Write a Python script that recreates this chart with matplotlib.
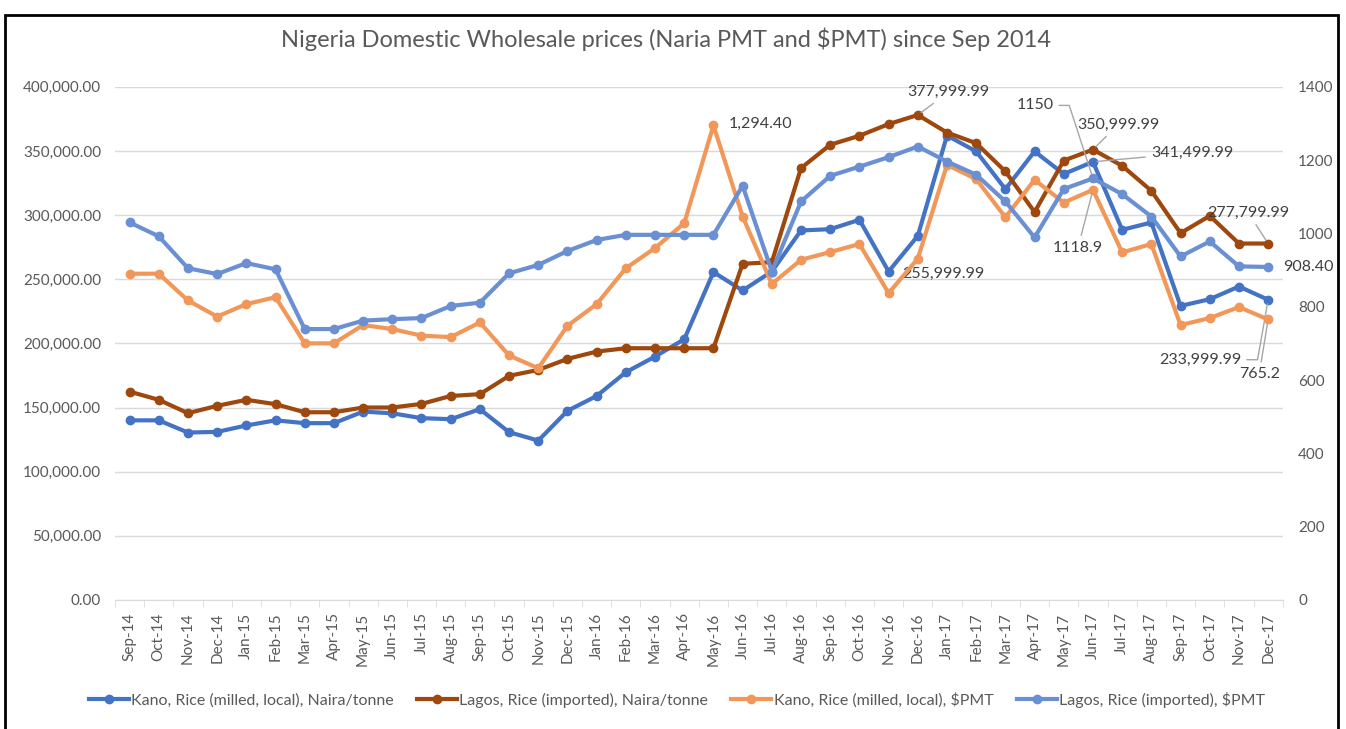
import numpy as np
import matplotlib.pyplot as plt
from matplotlib.patches import Rectangle
from matplotlib.ticker import FuncFormatter

plt.rcParams['font.family'] = ['Lato', 'DejaVu Sans']

months = ['Sep-14', 'Oct-14', 'Nov-14', 'Dec-14', 'Jan-15', 'Feb-15', 'Mar-15', 'Apr-15',
          'May-15', 'Jun-15', 'Jul-15', 'Aug-15', 'Sep-15', 'Oct-15', 'Nov-15', 'Dec-15',
          'Jan-16', 'Feb-16', 'Mar-16', 'Apr-16', 'May-16', 'Jun-16', 'Jul-16', 'Aug-16',
          'Sep-16', 'Oct-16', 'Nov-16', 'Dec-16', 'Jan-17', 'Feb-17', 'Mar-17', 'Apr-17',
          'May-17', 'Jun-17', 'Jul-17', 'Aug-17', 'Sep-17', 'Oct-17', 'Nov-17', 'Dec-17']

kano_naira = [140000, 140000, 130500, 131000, 136000, 140000, 137800, 137800,
              146800, 145500, 141700, 140900, 148700, 130800, 124200, 147400,
              159000, 177500, 189700, 203200, 255500, 241200, 256000, 288000,
              289000, 296300, 255999.99, 283800, 362000, 349600, 320200, 349600,
              332000, 341499.99, 288500, 294200, 229200, 234400, 244300, 233999.99]

lagos_naira = [162400, 156000, 145600, 151300, 156000, 152600, 146300, 146300,
               150000, 150000, 152800, 159000, 160400, 174700, 179300, 187900,
               193600, 196200, 196200, 196200, 196200, 262000, 263300, 336600,
               354800, 361800, 370900, 377999.99, 364300, 356000, 334000, 302300,
               342500, 350999.99, 338400, 318900, 285900, 299400, 277800, 277799.99]

kano_usd = [890, 890, 817, 773, 807, 826, 700, 700,
            750, 739, 721, 717, 757, 667, 632, 748,
            807, 905, 960, 1028, 1294.40, 1046, 862, 928,
            949, 971, 837, 931, 1187, 1148, 1044, 1146,
            1084, 1118.9, 948, 971, 750, 769, 799, 765.2]

lagos_usd = [1030, 992, 905, 889, 919, 902, 739, 739,
             762, 766, 769, 802, 811, 891, 914, 952,
             982, 996, 996, 996, 996, 1130, 896, 1087,
             1157, 1182, 1208, 1237, 1196, 1160, 1087, 989,
             1121, 1150, 1107, 1046, 937, 978, 910, 908.40]

c_kano_n = '#4472C4'
c_lagos_n = '#9E480E'
c_kano_u = '#F1975A'
c_lagos_u = '#6A8FD2'
txt = '#595959'
grid_c = '#D9D9D9'

x = np.arange(len(months))

fig = plt.figure(figsize=(13.46, 7.29), dpi=100)
ax = fig.add_axes([0.0854, 0.177, 0.8676, 0.704])
ax2 = ax.twinx()

lw = 3
ms = 6
l1, = ax.plot(x, kano_naira, '-o', color=c_kano_n, lw=lw, ms=ms,
              label='Kano, Rice (milled, local), Naira/tonne')
l2, = ax.plot(x, lagos_naira, '-o', color=c_lagos_n, lw=lw, ms=ms,
              label='Lagos, Rice (imported), Naira/tonne')
l3, = ax2.plot(x, kano_usd, '-o', color=c_kano_u, lw=lw, ms=ms,
               label='Kano, Rice (milled, local), $PMT')
l4, = ax2.plot(x, lagos_usd, '-o', color=c_lagos_u, lw=lw, ms=ms,
               label='Lagos, Rice (imported), $PMT')

ax.set_xlim(-0.5, len(months) - 0.5)
ax.set_ylim(0, 400000)
ax2.set_ylim(0, 1400)
ax.set_yticks(np.arange(0, 400001, 50000))
ax2.set_yticks(np.arange(0, 1401, 200))
ax.yaxis.set_major_formatter(FuncFormatter(lambda v, p: f'{v:,.2f}'))
ax.grid(axis='y', color=grid_c, lw=1)
ax.set_axisbelow(True)

for a in (ax, ax2):
    for s in a.spines.values():
        s.set_visible(False)
    a.tick_params(axis='y', length=0, labelsize=11, labelcolor=txt)
ax.spines['bottom'].set_visible(True)
ax.spines['bottom'].set_color(grid_c)
ax.tick_params(axis='y', pad=10)
ax2.tick_params(axis='y', pad=11)

ax.set_xticks(x)
ax.set_xticklabels(months, rotation=90, fontsize=11, color=txt)
ax.set_xticks(np.arange(-0.5, len(months)), minor=True)
ax.tick_params(axis='x', which='major', length=0, pad=9)
ax.tick_params(axis='x', which='minor', length=5, color=grid_c)

fig.suptitle('Nigeria Domestic Wholesale prices (Naria PMT and $PMT) since Sep 2014',
             x=0.495, y=0.962, fontsize=17, color=txt)


def label(axis, i, val, text, dx, dy, ha='center', line=True, conn='arc3'):
    props = None
    if line:
        props = dict(arrowstyle='-', color='#A6A6A6', lw=1, shrinkA=2, shrinkB=3,
                     connectionstyle=conn)
    axis.annotate(text, xy=(i, val), xytext=(dx, dy), textcoords='offset pixels',
                  ha=ha, va='center', fontsize=11.5, color='#404040',
                  arrowprops=props, zorder=10)


label(ax2, 20, kano_usd[20], '1,294.40', 15, 2, ha='left', line=False)
label(ax, 27, lagos_naira[27], '377,999.99', 31, 23)
label(ax, 26, kano_naira[26], '255,999.99', 14, -2, ha='left', line=False)
label(ax2, 33, lagos_usd[33], '1150', -58, 73, conn='angle,angleA=0,angleB=108,rad=0')
label(ax, 33, lagos_naira[33], '350,999.99', 25, 25)
label(ax, 33, kano_naira[33], '341,499.99', 99, 9)
label(ax2, 33, kano_usd[33], '1118.9', -15, -58)
label(ax, 39, lagos_naira[39], '277,799.99', -20, 31)
label(ax2, 39, lagos_usd[39], '908.40', 15, 0, ha='left', line=False)
label(ax, 39, kano_naira[39], '233,999.99', -68, -60, conn='angle,angleA=0,angleB=80,rad=0')
label(ax2, 39, kano_usd[39], '765.2', -9, -55)

fig.legend(handles=[l1, l2, l3, l4], loc='center', bbox_to_anchor=(0.503, 0.04),
           ncol=4, frameon=False, fontsize=11.5, labelcolor=txt,
           handlelength=2.5, columnspacing=1.45, handletextpad=0.15)

fig.patches.append(Rectangle((0.004, -0.02), 0.99, 1.0, transform=fig.transFigure,
                             fill=False, edgecolor='black', lw=2))

fig.savefig('out.png', dpi=100)
